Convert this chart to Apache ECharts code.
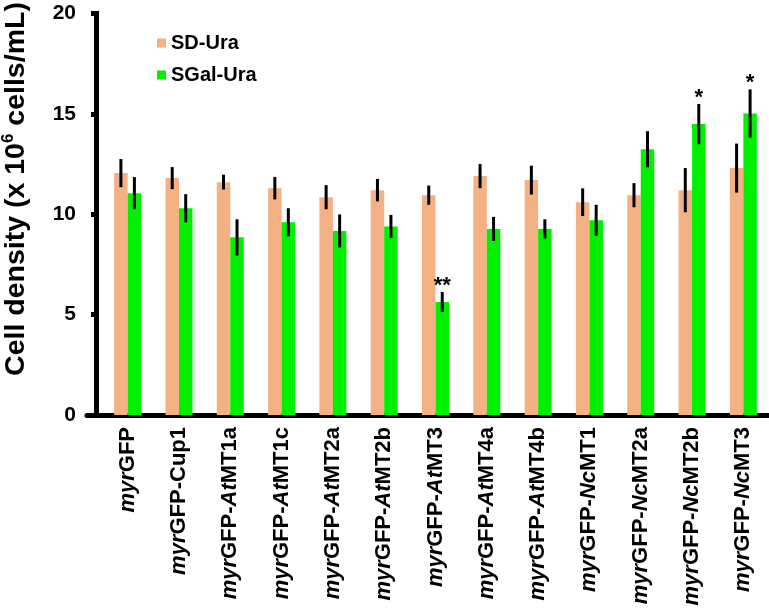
<!DOCTYPE html>
<html>
<head>
<meta charset="utf-8">
<script src="https://cdn.jsdelivr.net/npm/echarts@6/dist/echarts.min.js"></script>
<style>html,body{margin:0;padding:0;background:#fff}#c{width:769px;height:615px}</style>
</head>
<body>
<div id="c"></div>
<script>
const categories = ['myrGFP','myrGFP-Cup1','myrGFP-AtMT1a','myrGFP-AtMT1c','myrGFP-AtMT2a','myrGFP-AtMT2b','myrGFP-AtMT3','myrGFP-AtMT4a','myrGFP-AtMT4b','myrGFP-NcMT1','myrGFP-NcMT2a','myrGFP-NcMT2b','myrGFP-NcMT3'];
const sdUra   = [12.05, 11.8, 11.6, 11.3, 10.85, 11.2, 10.95, 11.9, 11.7, 10.6, 10.95, 11.2, 12.3];
const sdErr   = [0.7, 0.55, 0.37, 0.56, 0.6, 0.56, 0.48, 0.6, 0.72, 0.69, 0.6, 1.1, 1.22];
const sgalUra = [11.05, 10.3, 8.85, 9.6, 9.17, 9.39, 5.63, 9.27, 9.27, 9.7, 13.24, 14.49, 15.02];
const sgalErr = [0.8, 0.7, 0.9, 0.7, 0.82, 0.58, 0.5, 0.6, 0.48, 0.77, 0.9, 1.0, 1.2];
const stars   = ['', '', '', '', '', '', '**', '', '', '', '', '*', '*'];
const yTicks  = [0, 5, 10, 15, 20];

const FONT = '"Liberation Sans", Arial, Helvetica, sans-serif';
const BAR_W = 13.5;
const ORANGE = '#F4B183';
const GREEN = '#00F000';

function errSeries(name, vals, errs, off, marks) {
  return {
    type: 'custom',
    name: name + '-err',
    xAxisIndex: 0, yAxisIndex: 0,
    z: 5,
    silent: true,
    data: vals.map((v, i) => [i, v, errs[i]]),
    encode: { x: 0, y: 1 },
    renderItem: function (params, api) {
      const i = api.value(0), v = api.value(1), e = api.value(2);
      const mark = marks ? marks[i] : '';
      const top = api.coord([i, v + e]);
      const bot = api.coord([i, v - e]);
      const x = top[0] + off;
      const children = [{
        type: 'line',
        shape: { x1: x, y1: top[1], x2: x, y2: bot[1] },
        style: { stroke: '#000', lineWidth: 3 }
      }];
      if (mark) {
        children.push({
          type: 'text',
          style: { text: mark, x: x, y: top[1] - 6, align: 'center', verticalAlign: 'middle',
                   fontSize: 22, fontWeight: 'bold', fontFamily: FONT, fill: '#000' }
        });
      }
      return { type: 'group', children: children };
    }
  };
}

const chart = echarts.init(document.getElementById('c'), null, { renderer: 'canvas' });
chart.setOption({
  animation: false,
  backgroundColor: '#fff',
  legend: {
    orient: 'vertical',
    left: 152, top: 28,
    itemWidth: 9, itemHeight: 9, itemGap: 12,
    icon: 'rect',
    data: ['SD-Ura', 'SGal-Ura'],
    textStyle: { fontFamily: FONT, fontWeight: 'bold', fontSize: 20, color: '#000' }
  },
  grid: [
    { left: 102, top: 13.5, width: 670, bottom: 200, containLabel: false },
    { left: 87, top: 13.5, right: 0, bottom: 200, containLabel: false }
  ],
  xAxis: [{
    type: 'category', gridIndex: 0,
    data: categories,
    axisLine: { show: false },
    axisTick: { show: false },
    axisLabel: {
      rotate: 90, margin: 12, interval: 0,
      fontFamily: FONT, fontWeight: 'bold', fontSize: 22, color: '#000',
      formatter: function (s) { return s.replace(/(myr|At|Nc)/g, '{i|$1}'); },
      rich: { i: { fontStyle: 'italic', fontWeight: 'bold', fontFamily: FONT, fontSize: 22, color: '#000' } }
    }
  }, {
    type: 'value', gridIndex: 1, min: 0, max: 1,
    axisLine: { show: true, onZero: false, lineStyle: { color: '#000', width: 5 } },
    axisTick: { show: false }, axisLabel: { show: false }, splitLine: { show: false }
  }],
  yAxis: [{
    type: 'value', gridIndex: 0,
    min: yTicks[0], max: yTicks[yTicks.length - 1], interval: 5,
    offset: 6,
    axisLine: { show: true, lineStyle: { color: '#000', width: 5, cap: 'square' } },
    axisTick: { show: true, length: 5, lineStyle: { color: '#000', width: 5 } },
    axisLabel: { margin: 20, fontFamily: FONT, fontWeight: 'bold', fontSize: 21, color: '#000' },
    splitLine: { show: false }
  }, {
    type: 'value', gridIndex: 1, show: false
  }],
  graphic: [{
    type: 'text',
    x: 16, y: 189,
    rotation: Math.PI / 2,
    style: {
      text: '{a|Cell density (x 10}{s|6}{a| cells/mL)}',
      align: 'center', verticalAlign: 'middle',
      rich: {
        a: { fontFamily: FONT, fontWeight: 'bold', fontSize: 28.5, fill: '#000', lineHeight: 32 },
        s: { fontFamily: FONT, fontWeight: 'bold', fontSize: 17, fill: '#000', verticalAlign: 'top', lineHeight: 32, padding: [0, 0, 10, 0] }
      }
    }
  }],
  series: [
    { name: 'SD-Ura', type: 'bar', xAxisIndex: 0, yAxisIndex: 0, data: sdUra,
      barWidth: BAR_W, barGap: '0%', itemStyle: { color: ORANGE } },
    { name: 'SGal-Ura', type: 'bar', xAxisIndex: 0, yAxisIndex: 0, data: sgalUra,
      barWidth: BAR_W, barGap: '0%', itemStyle: { color: GREEN } },
    errSeries('SD-Ura', sdUra, sdErr, -BAR_W / 2, null),
    errSeries('SGal-Ura', sgalUra, sgalErr, BAR_W / 2, stars)
  ]
});
</script>
</body>
</html>
